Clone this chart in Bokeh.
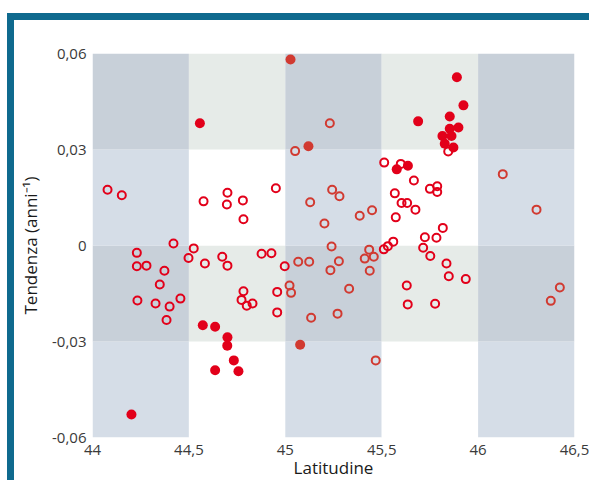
from bokeh.plotting import figure
from bokeh.models import FixedTicker
from bokeh.embed import file_html
from bokeh.resources import INLINE

# ---------------- data ----------------
lat_edges = [44.0, 44.5, 45.0, 45.5, 46.0, 46.5]
trend_edges = [-0.06, -0.03, 0.0, 0.03, 0.06]

x_ticks = [44, 44.5, 45, 45.5, 46, 46.5]
x_tick_labels = ["44", "44,5", "45", "45,5", "46", "46,5"]
y_ticks = [-0.06, -0.03, 0, 0.03, 0.06]
y_tick_labels = ["-0,06", "-0,03", "0", "0,03", "0,06"]

# bright red, open circles
a_lat = [44.078, 44.152, 44.576, 44.42, 44.23, 44.525, 44.498, 44.583, 44.23, 44.28,
         44.373, 44.349, 44.233, 44.327, 44.40, 44.456, 44.384, 44.673, 44.70, 44.877,
         44.928, 44.997, 44.783, 44.773, 44.80, 44.83, 44.958, 44.958, 44.70, 44.697,
         44.78, 44.783, 44.951,
         45.513, 45.599, 45.667, 45.845, 45.568, 45.603, 45.632, 45.675, 45.573, 45.75,
         45.788, 45.788, 45.817, 45.724, 45.784, 45.715, 45.752, 45.511, 45.532, 45.56,
         45.836, 45.848, 45.936, 45.63, 45.635, 45.777]
a_trend = [0.0174, 0.0157, 0.0138, 0.0006, -0.0023, -0.0009, -0.0039, -0.0056, -0.0065, -0.0063,
           -0.0079, -0.0122, -0.0172, -0.0181, -0.0191, -0.0166, -0.0233, -0.0035, -0.0063, -0.0026,
           -0.0024, -0.0065, -0.0143, -0.0170, -0.0188, -0.0181, -0.0145, -0.0209, 0.0165, 0.0128,
           0.0141, 0.0082, 0.0179,
           0.0259, 0.0255, 0.0203, 0.0294, 0.0163, 0.0133, 0.0133, 0.0112, 0.0088, 0.0177,
           0.0185, 0.0167, 0.0055, 0.0026, 0.0024, -0.0007, -0.0033, -0.0012, -0.0002, 0.0012,
           -0.0056, -0.0096, -0.0105, -0.0125, -0.0184, -0.0182]

# bright red, filled
b_lat = [44.202, 44.557, 44.572, 44.636, 44.70, 44.699, 44.733, 44.636, 44.757,
         45.578, 45.636, 45.89, 45.924, 45.689, 45.853, 45.853, 45.898, 45.815, 45.862,
         45.827, 45.872]
b_trend = [-0.0528, 0.0382, -0.0249, -0.0254, -0.0287, -0.0313, -0.0359, -0.039, -0.0393,
           0.0238, 0.0249, 0.0526, 0.0438, 0.0388, 0.0403, 0.0365, 0.0369, 0.0342, 0.0342,
           0.0318, 0.0306]

# darker red, open circles
c_lat = [45.051, 45.231, 45.129, 45.203, 45.243, 45.281, 45.386, 45.45, 45.24, 45.435,
         45.412, 45.459, 45.278, 45.234, 45.438, 45.331, 45.271, 45.469, 45.067, 45.124,
         45.022, 45.03, 45.134, 46.128, 46.303, 46.424, 46.377]
c_trend = [0.0295, 0.0382, 0.0135, 0.0069, 0.0174, 0.0154, 0.0093, 0.011, -0.0003, -0.0013,
           -0.0041, -0.0035, -0.0049, -0.0077, -0.0079, -0.0135, -0.0213, -0.0359, -0.0051, -0.0051,
           -0.0125, -0.0148, -0.0226, 0.0223, 0.0112, -0.0131, -0.0173]

# darker red, filled
d_lat = [45.027, 45.12, 45.077]
d_trend = [0.0581, 0.031, -0.031]

# ---------------- styling ----------------
FONT = "Open Sans"
RED = "#e2001a"
RED2 = "#d13a31"
TEAL = "#0f6a8e"
C_DARK = "#c8d0d9"
C_BLUE = "#d5dde7"
C_GREEN = "#e6ebe8"
C_WHITE = "#ffffff"

p = figure(width=582, height=467,
           x_range=(lat_edges[0], lat_edges[-1]),
           y_range=(trend_edges[0], trend_edges[-1]),
           output_backend="svg", toolbar_location=None,
           min_border_left=78, min_border_right=22,
           min_border_top=33, min_border_bottom=50)
p.outline_line_color = None
p.background_fill_color = "white"
p.border_fill_color = "white"
p.grid.grid_line_color = None
# teal frame lines on top and left of the panel
p.styles = {
    "margin-left": "7px",
    "margin-top": "13px",
    "border-left": f"7px solid {TEAL}",
    "border-top": f"7px solid {TEAL}",
}

# background grid cells
left, right, bottom, top, colors = [], [], [], [], []
for i in range(len(lat_edges) - 1):
    for j in range(len(trend_edges) - 1):
        blue = (i % 2 == 0)
        green = (j % 2 == 1)
        if blue and green:
            c = C_DARK
        elif blue:
            c = C_BLUE
        elif green:
            c = C_GREEN
        else:
            c = C_WHITE
        left.append(lat_edges[i]); right.append(lat_edges[i + 1])
        bottom.append(trend_edges[j]); top.append(trend_edges[j + 1])
        colors.append(c)
p.quad(left=left, right=right, bottom=bottom, top=top, fill_color=colors, line_color=None)

# points
p.scatter(a_lat, a_trend, size=8, fill_color=None, line_color=RED, line_width=2)
p.scatter(c_lat, c_trend, size=8, fill_color=None, line_color=RED2, line_width=2)
p.scatter(b_lat, b_trend, size=10, fill_color=RED, line_color=None)
p.scatter(d_lat, d_trend, size=10, fill_color=RED2, line_color=None)

# axes
for ax in (p.xaxis[0], p.yaxis[0]):
    ax.axis_line_color = None
    ax.major_tick_line_color = None
    ax.minor_tick_line_color = None
    ax.major_tick_out = 0
    ax.major_tick_in = 0
    ax.minor_tick_out = 0
    ax.major_label_text_font = FONT
    ax.major_label_text_font_size = "15px"
    ax.major_label_text_color = "#3a3a3a"
    ax.axis_label_text_font = FONT
    ax.axis_label_text_font_size = "17px"
    ax.axis_label_text_font_style = "normal"
    ax.axis_label_text_color = "#1a1a1a"

p.xaxis[0].ticker = FixedTicker(ticks=x_ticks)
p.xaxis[0].major_label_overrides = dict(zip(x_ticks, x_tick_labels))
p.xaxis[0].axis_label = "Latitudine"
p.xaxis[0].major_label_standoff = 7
p.xaxis[0].axis_label_standoff = -2

p.yaxis[0].ticker = FixedTicker(ticks=y_ticks)
p.yaxis[0].major_label_overrides = dict(zip(y_ticks, y_tick_labels))
p.yaxis[0].axis_label = "Tendenza (anni\u207b\u00b9)"
p.yaxis[0].major_label_standoff = 6
p.yaxis[0].axis_label_standoff = 7

open("out.html", "w").write(file_html(p, INLINE))
